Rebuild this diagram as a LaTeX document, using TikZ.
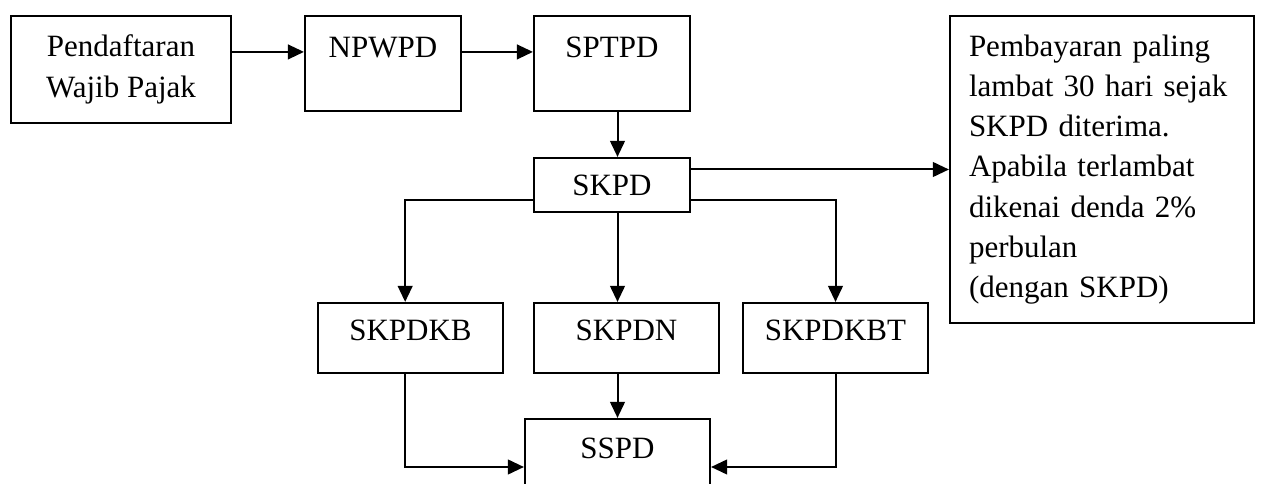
\documentclass[tikz,border=0pt]{standalone}
\usepackage{fontspec}
\setmainfont{Liberation Serif}
\usetikzlibrary{arrows.meta,calc}

\begin{document}
\begin{tikzpicture}[x=0.75pt,y=-0.75pt,
  every node/.style={font=\fontsize{23.25}{30.2}\selectfont},
  box/.style={draw,rectangle,line width=1.6pt,inner sep=2pt},
  toptext/.style={text height=15.4pt,text depth=#1},
  arr/.style={line width=1.5pt,-{Triangle[length=12pt,width=11pt]}}]
\clip (0,0) rectangle (1261,484);
% top row
\node [box,minimum width=165pt,minimum height=80.25pt,align=center] (daftar) at (121,69.5) {Pendaftaran\\Wajib Pajak};
\node [box,minimum width=117pt,minimum height=71.25pt,toptext=24.8pt] (npwpd) at (383,63.5) {NPWPD};
\node [box,minimum width=117pt,minimum height=71.25pt,toptext=24.8pt] (sptpd) at (612,63.5) {SPTPD};
\node [box,minimum width=117pt,minimum height=40.5pt] (skpd) at (612,185) {SKPD};
\node [box,minimum width=228pt,minimum height=230.25pt,inner xsep=14.25pt,text width=199.5pt,align=left] (bayar) at (1102,169.5)
  {Pembayaran paling\\lambat 30 hari sejak\\SKPD diterima.\\Apabila terlambat\\dikenai denda 2\%\\perbulan\\(dengan SKPD)};
% ketetapan
\node [box,minimum width=138.75pt,minimum height=52.5pt,toptext=12pt] (skpdkb) at (410.5,338) {SKPDKB};
\node [box,minimum width=138.75pt,minimum height=52.5pt,toptext=12pt] (skpdn) at (626.5,338) {SKPDN};
\node [box,minimum width=138.75pt,minimum height=52.5pt,toptext=12pt] (skpdkbt) at (835.5,338) {SKPDKBT};
\node [box,minimum width=138.75pt,minimum height=52.5pt,toptext=9pt] (sspd) at (617.5,454) {SSPD};
% arrows
\draw [arr] ($(daftar.north east)+(0,37)$) -- ($(npwpd.north west)+(0,37)$);
\draw [arr] ($(npwpd.north east)+(0,37)$) -- ($(sptpd.north west)+(0,37)$);
\draw [arr] (sptpd.south -| sspd.north) -- (skpd.north -| sspd.north);
\draw [arr] (skpd.east |- bayar.west) -- (bayar.west);
\draw [arr] ($(skpd.south west)+(0,-13)$) -| ([xshift=-4pt]skpdkb.north);
\draw [arr] (skpd.south -| sspd.north) -- (skpdn.north -| sspd.north);
\draw [arr] ($(skpd.south east)+(0,-13)$) -| (skpdkbt.north);
\draw [arr] ([xshift=-4pt]skpdkb.south) |- ([yshift=-9.75pt]sspd.west);
\draw [arr] (skpdn.south -| sspd.north) -- (sspd.north);
\draw [arr] (skpdkbt.south) |- ([yshift=-9.75pt]sspd.east);
\end{tikzpicture}
\end{document}
